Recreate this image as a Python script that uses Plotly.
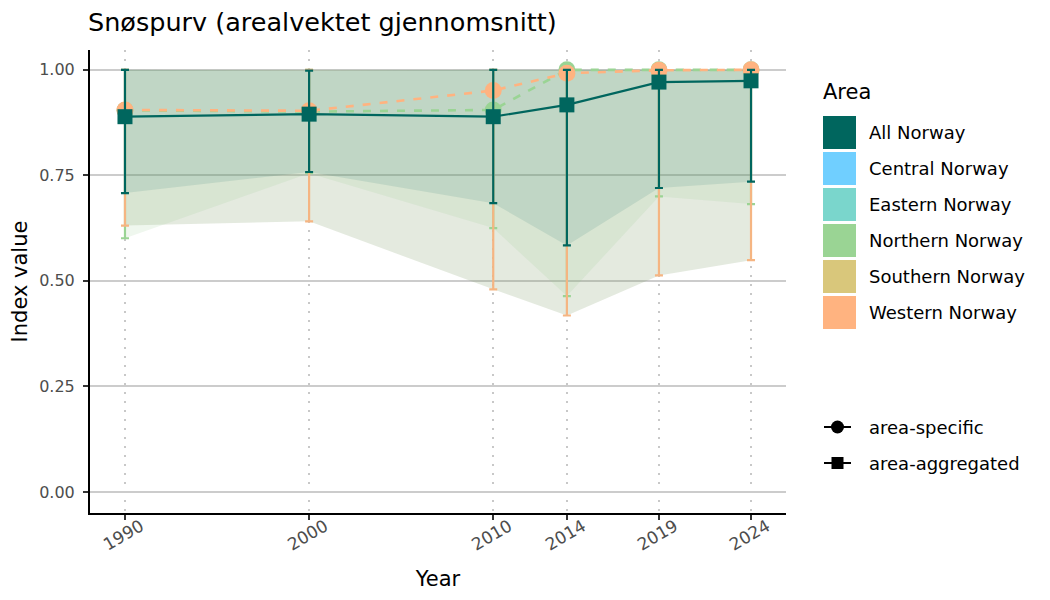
import plotly.graph_objects as go

# ---------------- data ----------------
years = [1990, 2000, 2010, 2014, 2019, 2024]
areas = ["All Norway", "Central Norway", "Eastern Norway",
         "Northern Norway", "Southern Norway", "Western Norway"]
area_colors = ["#00665E", "#70CFFF", "#7AD6CC", "#9AD494", "#D9C77B", "#FFB380"]

all_value = [0.889, 0.895, 0.889, 0.917, 0.971, 0.974]
all_lower = [0.708, 0.758, 0.684, 0.584, 0.720, 0.735]
all_upper = [1.000, 0.998, 1.000, 1.000, 1.000, 1.000]

north_value = [0.904, 0.901, 0.905, 1.000, 1.000, 1.000]
north_lower = [0.601, 0.755, 0.625, 0.464, 0.700, 0.682]
north_upper = [1.000, 1.000, 1.000, 1.000, 1.000, 1.000]

west_value = [0.905, 0.903, 0.951, 0.992, 0.999, 1.000]
west_lower = [0.631, 0.641, 0.480, 0.418, 0.513, 0.549]
west_upper = [1.000, 1.000, 1.000, 1.000, 1.000, 1.000]

y_ticks = [0.0, 0.25, 0.5, 0.75, 1.0]
y_tick_labels = ["0.00", "0.25", "0.50", "0.75", "1.00"]
shape_labels = ["area-specific", "area-aggregated"]

FONT = "DejaVu Sans"
col = dict(zip(areas, area_colors))

# page geometry (pixels); the page body adds an 8px offset
OFF = 8
W, H = 1050 - OFF, 600 - OFF
L, R, T, B = 90, 786, 50, 513   # plot area in screen pixels


def px(x):
    return (x - L) / (R - L)


def py(y):
    return (B - y) / (B - T)


fig = go.Figure()

# ribbons
def ribbon(lower, upper, fill):
    fig.add_trace(go.Scatter(
        x=years + years[::-1], y=lower + upper[::-1],
        fill="toself", fillcolor=fill, line=dict(width=0),
        mode="lines", hoverinfo="skip", showlegend=False))

ribbon(west_lower, west_upper, "rgba(120,150,95,0.20)")
ribbon(north_lower, north_upper, "rgba(150,200,140,0.15)")
ribbon(all_lower, all_upper, "rgba(0,102,94,0.11)")


def series(values, lower, upper, color, dash, symbol, size, err_color=None):
    fig.add_trace(go.Scatter(
        x=years, y=values, mode="lines+markers",
        line=dict(color=color, width=2.6 if dash else 2.2, dash=dash),
        marker=dict(symbol=symbol, size=size, color=color, line=dict(width=0)),
        error_y=dict(type="data", symmetric=False,
                     array=[u - v for u, v in zip(upper, values)],
                     arrayminus=[v - lo for v, lo in zip(values, lower)],
                     color=err_color or color, thickness=2.2, width=4),
        showlegend=False, hoverinfo="skip"))

series(north_value, north_lower, north_upper, col["Northern Norway"], "8px,9px", "circle", 17)
series(west_value, west_lower, west_upper, col["Western Norway"], "8px,9px", "circle", 17, "#F5B582")
series(all_value, all_lower, all_upper, col["All Norway"], None, "square", 15)

# ---------------- legend (drawn manually) ----------------
ann = []
shapes = []
ann.append(dict(text="Area", x=px(821), y=py(92), xref="paper", yref="paper",
                xanchor="left", yanchor="middle", showarrow=False,
                font=dict(family=FONT, size=21, color="black")))
for i, (a, c) in enumerate(zip(areas, area_colors)):
    top = 116 + 36 * i
    shapes.append(dict(type="rect", xref="paper", yref="paper",
                       x0=px(823), x1=px(856), y0=py(top), y1=py(top + 33),
                       fillcolor=c, line=dict(width=0)))
    ann.append(dict(text=a, x=px(867), y=py(top + 16.5), xref="paper", yref="paper",
                    xanchor="left", yanchor="middle", showarrow=False,
                    font=dict(family=FONT, size=18, color="black")))

for i, lab in enumerate(shape_labels):
    cy = 427 + 36 * i
    shapes.append(dict(type="line", xref="paper", yref="paper",
                       x0=px(824), x1=px(851), y0=py(cy), y1=py(cy),
                       line=dict(color="black", width=2)))
    if i == 0:
        shapes.append(dict(type="circle", xref="paper", yref="paper",
                           x0=px(831), x1=px(844), y0=py(cy - 6.5), y1=py(cy + 6.5),
                           fillcolor="black", line=dict(width=0)))
    else:
        shapes.append(dict(type="rect", xref="paper", yref="paper",
                           x0=px(831.5), x1=px(843.5), y0=py(cy - 6), y1=py(cy + 6),
                           fillcolor="black", line=dict(width=0)))
    ann.append(dict(text=lab, x=px(867), y=py(cy), xref="paper", yref="paper",
                    xanchor="left", yanchor="middle", showarrow=False,
                    font=dict(family=FONT, size=18, color="black")))

fig.update_layout(
    width=W, height=H,
    margin=dict(l=L - OFF, r=W - (R - OFF), t=T - OFF, b=H - (B - OFF), autoexpand=False),
    paper_bgcolor="white", plot_bgcolor="white",
    font=dict(family=FONT, color="black"),
    title=dict(text="Snøspurv (arealvektet gjennomsnitt)",
               xref="container", x=(88 - OFF) / W, xanchor="left",
               yref="container", y=1 - (22 - OFF) / H, yanchor="middle",
               font=dict(family=FONT, size=25.5, color="black")),
    showlegend=False,
    annotations=ann,
    shapes=shapes,
    xaxis=dict(range=[1988.1, 2025.9], tickmode="array", tickvals=years,
               ticktext=[str(y) for y in years], tickangle=-30,
               tickfont=dict(family=FONT, size=17, color="#4d4d4d"),
               ticklabelstandoff=-10, ticklabelshift=16,
               showgrid=True, gridcolor="#c8c8c8", gridwidth=2, griddash="2px,7px",
               showline=True, linecolor="black", linewidth=2,
               ticks="outside", ticklen=5, tickcolor="#333333", tickwidth=1.5,
               zeroline=False,
               title=dict(text="Year", font=dict(family=FONT, size=21, color="black"),
                          standoff=18)),
    yaxis=dict(range=[-0.05, 1.047], tickmode="array", tickvals=y_ticks,
               ticktext=y_tick_labels,
               tickfont=dict(family=FONT, size=16, color="#4d4d4d"),
               ticklabelstandoff=5,
               showgrid=True, gridcolor="#cccccc", gridwidth=1.6,
               showline=True, linecolor="black", linewidth=2,
               ticks="outside", ticklen=5, tickcolor="#333333", tickwidth=1.5,
               zeroline=False,
               title=dict(text="Index value", font=dict(family=FONT, size=21, color="black"),
                          standoff=6)),
)

fig.write_html("out.html")
